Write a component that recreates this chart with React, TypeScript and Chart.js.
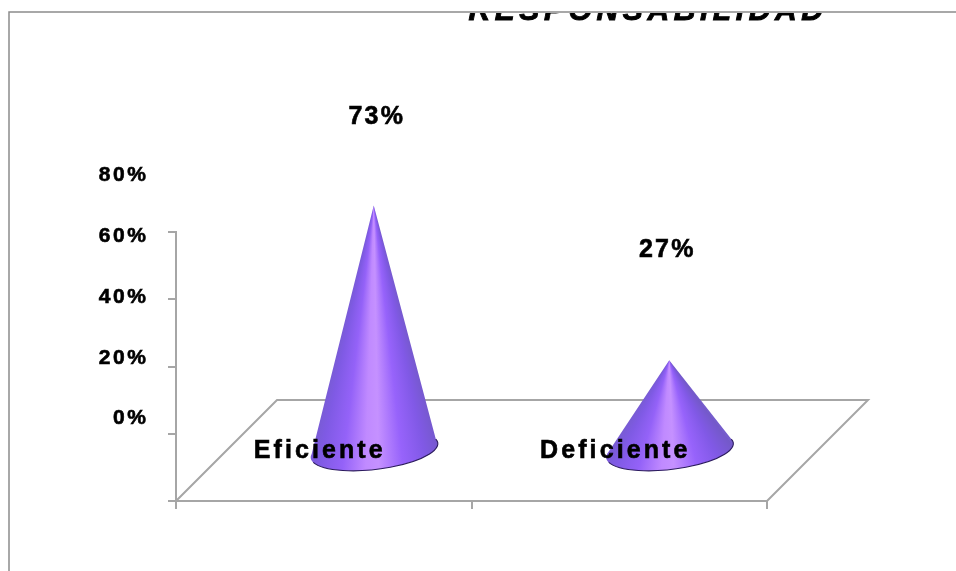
import { useEffect, useRef } from "react";
import { Chart, registerables } from "chart.js";

Chart.register(...registerables);

const categories = ["Eficiente", "Deficiente"];
const percentValues = [73, 27];
const valueLabels = ["73%", "27%"];
const axisTickLabels = ["0%", "20%", "40%", "60%", "80%"];
const chartTitle = "RESPONSABILIDAD";

const FONT = '"Liberation Sans", Arial, sans-serif';
const AXIS_GREY = "#a6a6a6";
const FLOOR_DEPTH = 100;
const VALUE_LABEL_RISE = [88, 110];
const VALUE_LABEL_SHIFT = [3, -2];

// Heavier rendering of a text run: fill plus a thin outline.
function heavyText(ctx: CanvasRenderingContext2D, text: string, x: number, y: number, weight = 0.6) {
  ctx.lineWidth = weight;
  ctx.strokeStyle = "#000";
  ctx.strokeText(text, x, y);
  ctx.fillText(text, x, y);
}

// Draws a cone standing on the floor for every bar element, plus the 3D floor and the texts.
const conePlugin = {
  id: "coneScene",
  beforeDatasetsDraw(chart: any) {
    const { ctx, chartArea } = chart;
    const { left, right, bottom } = chartArea;
    ctx.save();
    ctx.strokeStyle = "#8c8c8c";
    ctx.lineWidth = 1.5;
    ctx.beginPath();
    ctx.moveTo(9, chart.height);
    ctx.lineTo(9, 12);
    ctx.lineTo(chart.width, 12);
    ctx.stroke();

    ctx.strokeStyle = AXIS_GREY;
    ctx.lineWidth = 2;
    ctx.lineJoin = "miter";
    ctx.beginPath();
    ctx.moveTo(left, bottom);
    ctx.lineTo(left + FLOOR_DEPTH + 1, bottom - FLOOR_DEPTH - 1);
    ctx.lineTo(right + FLOOR_DEPTH + 1, bottom - FLOOR_DEPTH - 1);
    ctx.lineTo(right, bottom);
    ctx.stroke();
    ctx.restore();
  },
  afterDatasetsDraw(chart: any) {
    const { ctx } = chart;
    const meta = chart.getDatasetMeta(0);
    const yScale = chart.scales.y;
    const zeroY = yScale.getPixelForValue(0);

    meta.data.forEach((bar: any) => {
      const apexX = bar.x + FLOOR_DEPTH / 2;
      const apexY = bar.y - FLOOR_DEPTH / 2;
      const cx = apexX + 0.5;
      const cy = bar.base - FLOOR_DEPTH / 2 + 0.5;
      const rx = 64;
      const ry = 19;
      const tilt = -0.118;
      const bulge = 0.22;

      const rightEnd = Math.atan2(cy - apexY, rx + cx - apexX);
      const leftEnd = Math.atan2(cy - apexY, cx - rx - apexX);
      const from = rightEnd - 0.02;
      const span = leftEnd - rightEnd + 0.04;
      const tau = Math.PI * 2;
      const grad = ctx.createConicGradient(from, apexX, apexY);
      const stop = (t: number, c: string) => grad.addColorStop((t * span) / tau, c);
      stop(0, "#7359c8");
      stop(0.14, "#8159e6");
      stop(0.3, "#9763fb");
      stop(0.47, "#c591ff");
      stop(0.56, "#c08aff");
      stop(0.72, "#9462f8");
      stop(0.88, "#7f5ae4");
      stop(1, "#755ccc");

      ctx.save();
      ctx.fillStyle = grad;
      ctx.beginPath();
      ctx.moveTo(apexX, apexY);
      ctx.ellipse(cx, cy, rx, ry, tilt, -bulge, Math.PI + bulge);
      ctx.closePath();
      ctx.fill();

      ctx.strokeStyle = "#2c1c5e";
      ctx.lineWidth = 1.1;
      ctx.beginPath();
      ctx.ellipse(cx, cy, rx, ry, tilt, -bulge, Math.PI - 0.25);
      ctx.stroke();
      ctx.restore();
    });

    ctx.save();
    ctx.fillStyle = "#000";
    ctx.textBaseline = "middle";

    // Category names sit on the floor, above the axis line.
    ctx.font = `bold 25px ${FONT}`;
    ctx.letterSpacing = "3.1px";
    ctx.textAlign = "center";
    meta.data.forEach((bar: any, i: number) => {
      heavyText(ctx, categories[i], bar.x - 4, bar.base - 49);
    });

    // Value labels above each cone.
    ctx.font = `bold 25px ${FONT}`;
    ctx.letterSpacing = "2.2px";
    meta.data.forEach((bar: any, i: number) => {
      heavyText(
        ctx,
        valueLabels[i],
        bar.x + FLOOR_DEPTH / 2 + VALUE_LABEL_SHIFT[i],
        bar.y - FLOOR_DEPTH / 2 - VALUE_LABEL_RISE[i],
      );
    });

    // Value axis labels run on a slightly tighter rhythm than the tick marks.
    ctx.font = `bold 21px ${FONT}`;
    ctx.letterSpacing = "2.6px";
    ctx.textAlign = "right";
    yScale.ticks.forEach((tick: any, i: number) => {
      const tickY = yScale.getPixelForValue(tick.value);
      heavyText(ctx, axisTickLabels[i], 148.5, zeroY - 82.5 - (zeroY - tickY) * 0.903);
    });

    // Title cut off by the frame's upper edge.
    ctx.beginPath();
    ctx.rect(0, 13, chart.width, 40);
    ctx.clip();
    ctx.font = `italic bold 30px ${FONT}`;
    ctx.letterSpacing = "4.6px";
    ctx.textAlign = "center";
    ctx.textBaseline = "alphabetic";
    heavyText(ctx, chartTitle, 648, 20, 0.9);
    ctx.restore();
  },
};

export default function App() {
  const canvasRef = useRef<HTMLCanvasElement | null>(null);

  useEffect(() => {
    const chart = new Chart(canvasRef.current as HTMLCanvasElement, {
      type: "bar",
      data: {
        labels: categories,
        datasets: [
          {
            data: percentValues,
            backgroundColor: "rgba(0,0,0,0)",
            borderWidth: 0,
          },
        ],
      },
      options: {
        animation: false,
        responsive: false,
        layout: { padding: { left: 168, right: 189, top: 232, bottom: 62 } },
        plugins: { legend: { display: false }, tooltip: { enabled: false }, title: { display: false } },
        scales: {
          x: {
            grid: { drawOnChartArea: false, color: AXIS_GREY, lineWidth: 2, tickLength: 8 },
            border: { color: AXIS_GREY, width: 2 },
            ticks: { display: false },
          },
          y: {
            min: 0,
            max: 80,
            grid: { drawOnChartArea: false, color: AXIS_GREY, lineWidth: 2, tickLength: 8 },
            border: { color: AXIS_GREY, width: 2 },
            ticks: { display: false, stepSize: 20 },
          },
        },
      },
      plugins: [conePlugin],
    } as any);
    return () => chart.destroy();
  }, []);

  return (
    <canvas
      ref={canvasRef}
      width={956}
      height={571}
      style={{ position: "absolute", left: 0, top: 0, display: "block" }}
    />
  );
}
